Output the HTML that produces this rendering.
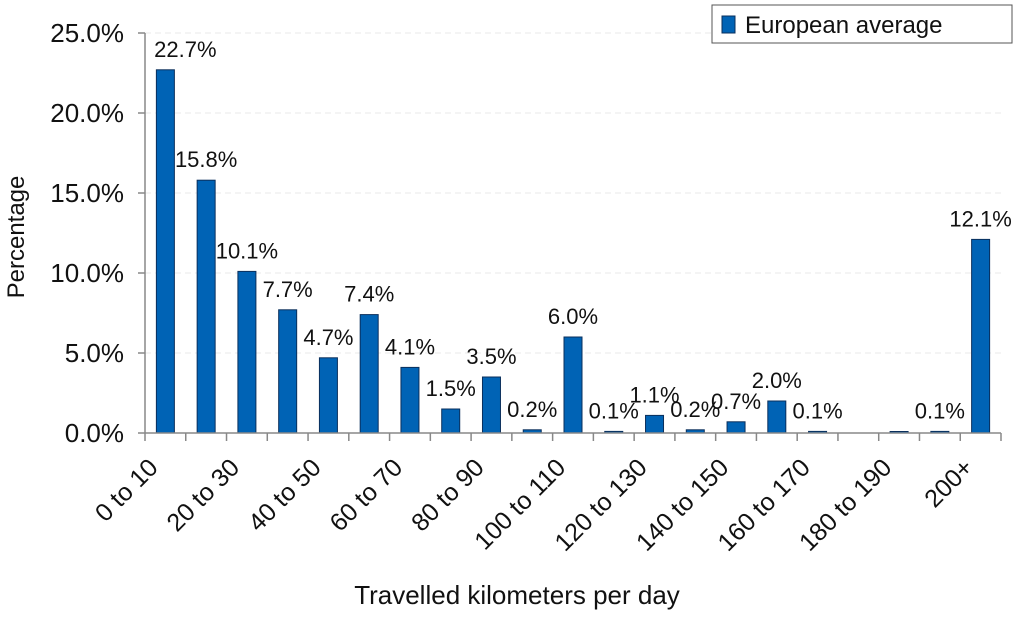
<!DOCTYPE html>
<html><head><meta charset="utf-8"><style>
body{margin:0;background:#fff}
svg text{font-family:"Liberation Sans",Arial,sans-serif;fill:#111}
</style></head><body>
<svg width="1024" height="616">
<g id="grid"></g>
<g id="bars"></g>
<g id="axes"></g>
<text x="24" y="237" font-size="24" text-anchor="middle" transform="rotate(-90 24 237)">Percentage</text>
<text x="517" y="604" font-size="26" text-anchor="middle">Travelled kilometers per day</text>
<g>
<rect x="712" y="5" width="300" height="38" fill="#fff" stroke="#555" stroke-width="1"/>
<rect x="722" y="16" width="13" height="17" fill="#0063b5" stroke="#0a2f5c"/>
<text x="745" y="33" font-size="24">European average</text>
</g>
</svg>
<script>
const categories=["0 to 10","10 to 20","20 to 30","30 to 40","40 to 50","50 to 60","60 to 70","70 to 80","80 to 90","90 to 100","100 to 110","110 to 120","120 to 130","130 to 140","140 to 150","150 to 160","160 to 170","170 to 180","180 to 190","190 to 200","200+"];
const values=[22.7,15.8,10.1,7.7,4.7,7.4,4.1,1.5,3.5,0.2,6.0,0.1,1.1,0.2,0.7,2.0,0.1,0,0.05,0.1,12.1];
const valueLabels=["22.7%","15.8%","10.1%","7.7%","4.7%","7.4%","4.1%","1.5%","3.5%","0.2%","6.0%","0.1%","1.1%","0.2%","0.7%","2.0%","0.1%","","","0.1%","12.1%"];
const yTicks=[0,5,10,15,20,25];
const yTickLabels=["0.0%","5.0%","10.0%","15.0%","20.0%","25.0%"];
const NS="http://www.w3.org/2000/svg";
const x0=145,x1=1001,y0=433,yTop=33,yMax=25;
const bw=(x1-x0)/categories.length;
const y=v=>y0-(v/yMax)*(y0-yTop);
const xc=i=>x0+bw*(i+0.5);
function mk(t,a,p){const e=document.createElementNS(NS,t);for(const k in a)e.setAttribute(k,a[k]);p.appendChild(e);return e;}
const grid=document.getElementById('grid'),bars=document.getElementById('bars'),axes=document.getElementById('axes');
yTicks.forEach((v,i)=>{
 if(v>0){const g=mk('line',{x1:x0,x2:x1,y1:y(v),y2:y(v),stroke:'#e8e8e8','stroke-dasharray':'6,4'},grid);
 
 }
 const t=mk('line',{x1:x0-7,x2:x0,y1:y(v),y2:y(v),stroke:'#888','stroke-width':1.5},axes);
 
 
 const l=mk('text',{x:x0-21,y:y(v)+9,'font-size':26,'text-anchor':'end'},axes);l.textContent=yTickLabels[i];
 
 
});
mk('line',{x1:x0,x2:x0,y1:yTop,y2:y0,stroke:'#888','stroke-width':1.5},axes);
mk('line',{x1:x0,x2:x1,y1:y0,y2:y0,stroke:'#888','stroke-width':1.5},axes);
for(let i=0;i<=categories.length;i++){
 const t=mk('line',{x1:x0+bw*i,x2:x0+bw*i,y1:y0,y2:y0+8,stroke:'#888','stroke-width':1.5},axes);
 
 
}
values.forEach((v,i)=>{
 const h=Math.max(y0-y(v),v>0?1.5:0);
 if(h>0){const r=mk('rect',{x:xc(i)-9,y:y0-h,width:18,height:h,fill:'#0063b5',stroke:'#0a2f5c','stroke-width':1},bars);
 
 }
 if(valueLabels[i]){const l=mk('text',{x:xc(i)+(i==0?20:0),y:y(v)-13,'font-size':22,'text-anchor':'middle'},bars);l.textContent=valueLabels[i];
 
 }
 if(i%2==0){const px=xc(i)-6,py=y0+36;
 const l=mk('text',{x:px,y:py,'font-size':25,'text-anchor':'end',transform:`rotate(-45 ${px} ${py})`},axes);l.textContent=categories[i];
 
 }
});
</script>
</body></html>
